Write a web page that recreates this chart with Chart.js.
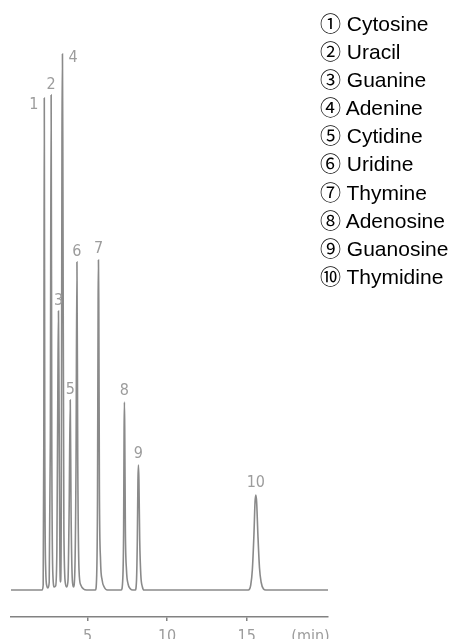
<!DOCTYPE html>
<html>
<head>
<meta charset="utf-8">
<script src="https://cdn.jsdelivr.net/npm/chart.js@4"></script>
<style>
  html, body { margin: 0; padding: 0; background: #ffffff; }
  #wrap { position: relative; width: 454px; height: 639px; overflow: hidden; }
  #legend {
    position: absolute; left: 320px; top: 10px;
    font-family: "Liberation Sans", Arial, "Noto Sans CJK JP", sans-serif;
    font-size: 21px; line-height: 28.1px; color: #000; white-space: nowrap;
  }
</style>
</head>
<body>
<div id="wrap">
  <canvas id="c" width="454" height="639"></canvas>
  <div id="legend"></div>
</div>
<script>
// ---- data ----
const compoundNames = ["Cytosine", "Uracil", "Guanine", "Adenine", "Cytidine",
                       "Uridine", "Thymine", "Adenosine", "Guanosine", "Thymidine"];
const circledNumbers = ["①", "②", "③", "④", "⑤", "⑥", "⑦", "⑧", "⑨", "⑩"];
const peakLabels = ["1", "2", "3", "4", "5", "6", "7", "8", "9", "10"];
const peakTimes = [2.29, 2.72, 3.18, 3.43, 3.92, 4.34, 5.69, 7.32, 8.20, 15.57];   // min
const peakHeights = [492, 495, 279, 536, 190, 328, 330, 188, 125, 95];           // signal (arb.)

// detector trace: time (min) and signal (arb.)
const traceTime = [
  0.20, 2.15, 2.22, 2.26, 2.29, 2.32, 2.38, 2.45, 2.52,
  2.60, 2.67, 2.72, 2.76, 2.83, 2.92, 3.00,
  3.08, 3.14, 3.18, 3.22, 3.27, 3.31,
  3.36, 3.40, 3.43, 3.46, 3.52, 3.62, 3.70,
  3.78, 3.85, 3.92, 3.97, 4.05, 4.12,
  4.20, 4.28, 4.34, 4.39, 4.47, 4.58, 4.75, 4.95,
  5.50, 5.58, 5.63, 5.67, 5.69, 5.71, 5.75, 5.82, 5.92, 6.05, 6.25,
  7.12, 7.22, 7.27, 7.30, 7.32, 7.34, 7.38, 7.45, 7.55, 7.70, 7.85,
  8.00, 8.08, 8.13, 8.17, 8.20, 8.23, 8.28, 8.35, 8.45, 8.55,
  15.10, 15.25, 15.35, 15.45, 15.52, 15.57, 15.62, 15.70, 15.80, 15.90, 16.05, 16.20,
  20.10
];
const traceSignal = [
  0, 0, 5, 150, 492, 150, 20, 4, 2,
  8, 150, 495, 150, 15, 3, 4,
  40, 200, 279, 180, 30, 8,
  100, 450, 536, 400, 60, 6, 3,
  10, 80, 190, 80, 10, 3,
  15, 120, 328, 130, 20, 5, 1, 0,
  0, 15, 90, 290, 330, 290, 100, 30, 10, 3, 0,
  0, 12, 60, 160, 188, 160, 60, 20, 6, 1, 0,
  0, 10, 50, 110, 125, 110, 50, 15, 3, 0,
  0, 5, 20, 55, 88, 95, 88, 55, 22, 8, 1, 0,
  0
];
const xTickValues = [5, 10, 15, 19];
const xTickLabels = ["5", "10", "15", "(min)"];

// ---- legend (HTML text) ----
document.getElementById('legend').innerHTML =
  compoundNames.map((n, i) => circledNumbers[i] + ' ' + n).join('<br>');

// ---- styles ----
const traceColor = '#8a8a8a';
const axisColor = '#828282';
const labelColor = '#9c9c9c';
const narrowFont = '"Liberation Sans Narrow", "DejaVu Sans Condensed", "Liberation Sans", sans-serif';
// label placement relative to each peak apex: [dx, dy, align]
const labelPlacement = [
  [-6, 7, 'right'], [0, -10, 'center'], [0, -10, 'center'], [6, 4, 'left'], [0, -10, 'center'],
  [0, -10, 'center'], [0, -11, 'center'], [0, -11, 'center'], [0, -11, 'center'], [0, -12, 'center']
];

const peakLabelPlugin = {
  id: 'peakLabels',
  afterDatasetsDraw(chart) {
    const ctx = chart.ctx;
    const xs = chart.scales.x, ys = chart.scales.y;
    ctx.save();
    ctx.fillStyle = labelColor;
    ctx.font = '16px ' + narrowFont;
    ctx.textBaseline = 'middle';
    peakLabels.forEach((lab, i) => {
      const px = xs.getPixelForValue(peakTimes[i]);
      const py = ys.getPixelForValue(peakHeights[i]);
      const p = labelPlacement[i];
      ctx.textAlign = p[2];
      ctx.fillText(lab, px + p[0], py + p[1]);
    });
    ctx.restore();
  }
};

new Chart(document.getElementById('c'), {
  type: 'line',
  data: {
    datasets: [{
      data: traceTime.map((t, i) => ({ x: t, y: traceSignal[i] })),
      borderColor: traceColor,
      borderWidth: 1.6,
      pointRadius: 0,
      cubicInterpolationMode: 'monotone',
      fill: false
    }]
  },
  options: {
    responsive: false,
    animation: false,
    layout: { padding: { left: 11, right: 126, top: 40, bottom: 0 } },
    plugins: { legend: { display: false }, tooltip: { enabled: false } },
    scales: {
      x: {
        type: 'linear',
        min: 0.2,
        max: 20.1,
        afterBuildTicks(scale) { scale.ticks = xTickValues.map(v => ({ value: v })); },
        afterFit(scale) { scale.height = 22; },
        ticks: {
          autoSkip: false,
          maxRotation: 0,
          color: labelColor,
          font: { size: 16, family: narrowFont },
          padding: 6,
          callback: (v) => { const k = xTickValues.indexOf(v); return k >= 0 ? xTickLabels[k] : ''; }
        },
        grid: {
          display: true,
          drawOnChartArea: false,
          drawTicks: true,
          tickLength: 4,
          lineWidth: 1.5,
          color: (c) => (c.tick && c.tick.value === 19) ? 'rgba(0,0,0,0)' : axisColor
        },
        border: { display: true, color: axisColor, width: 1.5 }
      },
      y: {
        display: false,
        min: -27,
        max: 550
      }
    }
  },
  plugins: [peakLabelPlugin]
});
</script>
</body>
</html>
